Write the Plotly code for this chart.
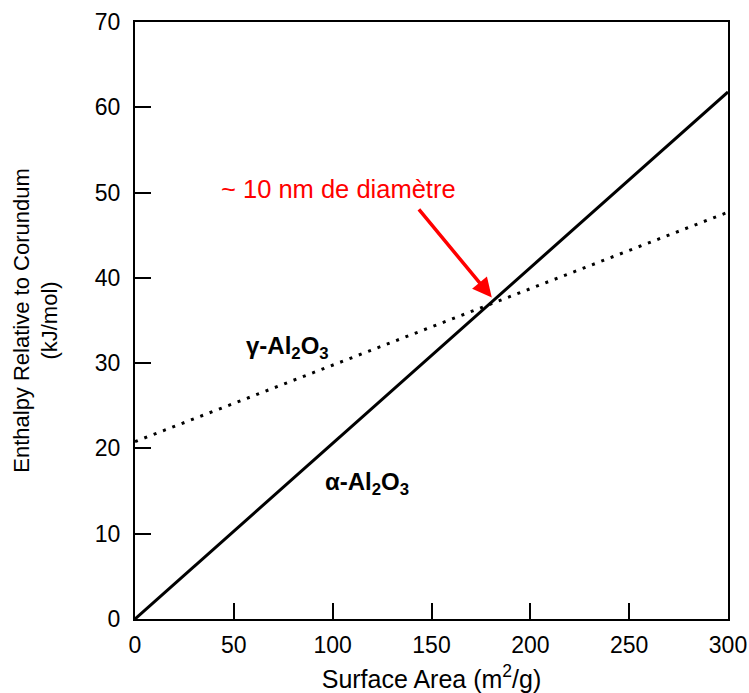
import plotly.graph_objects as go

surface_area = [0, 300]
alpha_enthalpy = [0, 61.8]
gamma_enthalpy = [20.8, 47.7]
x_ticks = [0, 50, 100, 150, 200, 250, 300]
y_ticks = [0, 10, 20, 30, 40, 50, 60, 70]

fig = go.Figure()
fig.add_trace(go.Scatter(x=surface_area, y=gamma_enthalpy, mode="lines",
                         line=dict(color="black", width=3, dash="3px,7px"), name="γ-Al2O3"))
fig.add_trace(go.Scatter(x=surface_area, y=alpha_enthalpy, mode="lines",
                         line=dict(color="black", width=3), name="α-Al2O3"))

font = "Liberation Sans, Arial, sans-serif"
fig.add_annotation(x=77, y=31.8, text="γ-Al<sub>2</sub>O<sub>3</sub>", showarrow=False,
                   font=dict(family=font, size=24, color="black", weight="bold"))
fig.add_annotation(x=117.6, y=15.9, text="α-Al<sub>2</sub>O<sub>3</sub>", showarrow=False,
                   font=dict(family=font, size=24, color="black", weight="bold"))
fig.add_annotation(x=180.5, y=37.7, ax=143, ay=48.2, axref="x", ayref="y",
                   text="", showarrow=True, arrowhead=2, arrowsize=1.1, arrowwidth=3.5,
                   arrowcolor="red")
fig.add_annotation(x=103, y=50.4, text="~ 10 nm de diamètre", showarrow=False,
                   font=dict(family=font, size=25.5, color="red"))

fig.update_layout(
    width=749, height=693, plot_bgcolor="white", paper_bgcolor="white",
    margin=dict(l=135, r=21, t=22, b=74), showlegend=False,
    font=dict(family=font, color="black"),
)
fig.update_xaxes(range=[0, 300], tickvals=x_ticks, ticks="inside", ticklen=16, tickwidth=2,
                 tickcolor="black", showline=True, linecolor="black", linewidth=2, mirror=True,
                 showgrid=False, zeroline=False, tickfont=dict(size=23), ticklabelstandoff=4,
                 automargin=False,
                 title=dict(text="Surface Area (m<sup>2</sup>/g)", font=dict(size=25), standoff=18))
fig.update_yaxes(range=[0, 70], tickvals=y_ticks, ticks="inside", ticklen=16, tickwidth=2,
                 tickcolor="black", showline=True, linecolor="black", linewidth=2, mirror=True,
                 showgrid=False, zeroline=False, tickfont=dict(size=23), ticklabelstandoff=8,
                 automargin=False,
                 title=dict(text="Enthalpy Relative to Corundum<br>(kJ/mol)", font=dict(size=22), standoff=31))

fig.write_html("out.html", config={"displayModeBar": False},
               post_script="document.body.style.margin='0';document.body.style.overflow='hidden';")
